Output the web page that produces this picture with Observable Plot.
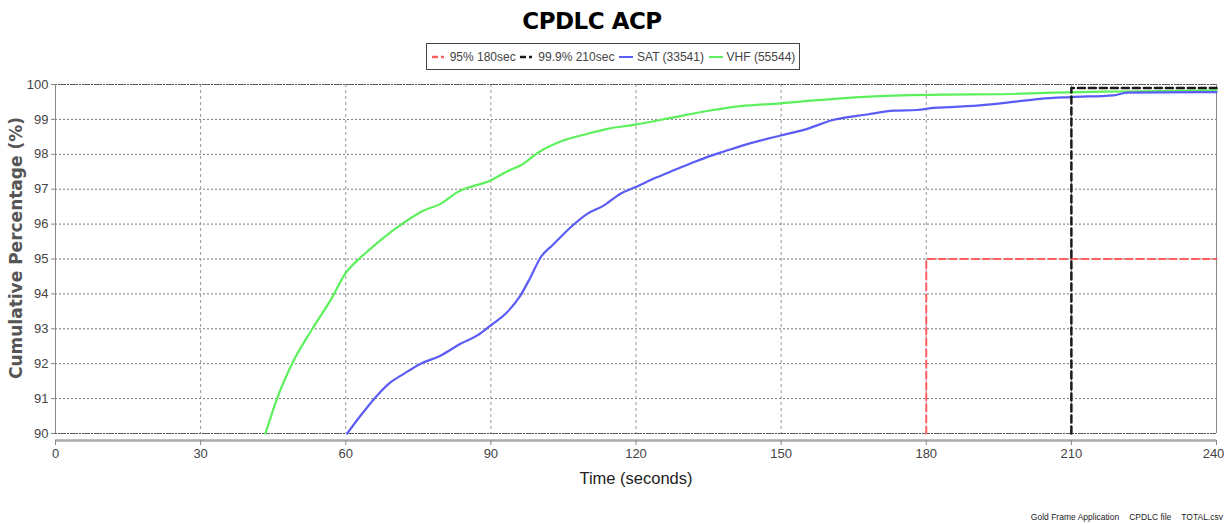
<!DOCTYPE html>
<html><head><meta charset="utf-8">
<script src="https://cdn.jsdelivr.net/npm/d3@7"></script>
<script src="https://cdn.jsdelivr.net/npm/@observablehq/plot@0.6"></script>
<style>
body{margin:0;background:#fff;width:1226px;height:524px;overflow:hidden;font-family:"Liberation Sans",Arial,sans-serif;}
#title{position:absolute;left:0;width:1184px;top:8px;text-align:center;font-weight:bold;font-size:23px;color:#000;font-family:"DejaVu Sans",sans-serif;letter-spacing:-0.5px;}
#legend{position:absolute;left:426px;top:43px;width:372px;height:25px;border:1px solid #444;display:flex;align-items:center;justify-content:space-evenly;font-size:12px;color:#444;white-space:nowrap;}
#legend span{display:inline-flex;align-items:center;gap:3px;white-space:nowrap;}
#chart{position:absolute;left:0;top:74px;}
#chart svg{overflow:visible;}
#caption{position:absolute;right:3px;top:512px;font-size:8.5px;color:#222;white-space:nowrap;}
#caption b{font-weight:normal;margin-left:10px;}
</style></head>
<body>
<div id="title">CPDLC ACP</div>
<div id="legend"></div>
<div id="chart"></div>
<div id="caption">Gold Frame Application<b>CPDLC file</b><b>TOTAL.csv</b></div>
<script>
const seriesNames = ["95% 180sec", "99.9% 210sec", "SAT (33541)", "VHF (55544)"];
const seriesColors = ["#ff5f5f", "#1a1a1a", "#5b5bf5", "#5cf05c"];

const vhfTime = [43.4,45.8,48.9,53.1,57.2,59.9,62.4,65.1,67.9,71.6,76.1,79.6,83.0,89.9,94.1,96.1,99.9,105.1,110,114.1,119.9,127.8,134.7,141.6,149.9,160.9,169.2,184.3,195,206.4,220,240];
const vhfPct  = [90.0,91.0,92.0,93.0,93.9,94.58,94.96,95.29,95.62,96.0,96.39,96.58,96.91,97.25,97.56,97.68,98.06,98.4,98.59,98.73,98.85,99.06,99.24,99.38,99.46,99.59,99.66,99.71,99.72,99.77,99.8,99.83];

const satTime = [60.3,63.0,66.5,69.3,72.0,75.5,79.6,83.7,87.2,89.9,93.4,96.1,98.2,100.3,103.0,106.5,110.0,113.3,116.8,119.9,124.3,127.8,131.9,134.7,138.2,143.7,149.9,154.7,160.9,167.8,173.3,178.1,181.6,185,191,198,203.6,209.8,218.7,221.6,240];
const satPct  = [90.0,90.5,91.09,91.47,91.71,92.0,92.23,92.57,92.81,93.09,93.48,93.95,94.48,95.05,95.43,95.91,96.3,96.53,96.87,97.06,97.34,97.54,97.77,97.92,98.08,98.32,98.54,98.70,98.99,99.14,99.25,99.27,99.33,99.35,99.4,99.5,99.59,99.64,99.69,99.77,99.78];

const ref95Time = [180, 180, 240];
const ref95Pct = [90, 95, 95];
const ref999Time = [210, 210, 240];
const ref999Pct = [90, 99.9, 99.9];

const xTicks = [0,30,60,90,120,150,180,210,240];
const yTicks = [90,91,92,93,94,95,96,97,98,99,100];

const toRows = (t, p) => t.map((x, i) => ({x, y: p[i]}));
const vhf = toRows(vhfTime, vhfPct);
const sat = toRows(satTime, satPct);
const r95 = toRows(ref95Time, ref95Pct);
const r999 = toRows(ref999Time, ref999Pct);

// legend
const leg = document.getElementById("legend");
seriesNames.forEach((n, i) => {
  const dashed = i < 2;
  const icon = dashed
    ? `<svg width="16" height="6"><line x1="1" y1="3" x2="7" y2="3" stroke="${seriesColors[i]}" stroke-width="2.5"/><line x1="10" y1="3" x2="13" y2="3" stroke="${seriesColors[i]}" stroke-width="2.5"/></svg>`
    : `<svg width="16" height="6"><line x1="1" y1="3" x2="15" y2="3" stroke="${seriesColors[i]}" stroke-width="2"/></svg>`;
  const s = document.createElement("span");
  s.innerHTML = icon + n;
  leg.appendChild(s);
});

const lastTick = xTicks[xTicks.length - 1];
const plot = Plot.plot({
  width: 1226,
  height: 430,
  marginTop: 10,
  marginBottom: 71,
  marginLeft: 55,
  marginRight: 10,
  style: {fontFamily: '"Liberation Sans",Arial,sans-serif', fontSize: "13px", color: "#444", background: "#fff", overflow: "visible"},
  x: {domain: [0, 240]},
  y: {domain: [90, 100]},
  marks: [
    Plot.gridY(yTicks, {stroke: "#777", strokeOpacity: 1, strokeDasharray: "2,2", strokeWidth: 1}),
    Plot.gridX(xTicks.slice(1, -1), {stroke: "#999", strokeOpacity: 1, strokeDasharray: "3,3", strokeWidth: 1}),
    Plot.ruleY([90, 100], {stroke: "#555", strokeDasharray: "2,1", strokeWidth: 1.2}),
    Plot.ruleX([0, 240], {stroke: "#888", strokeWidth: 1}),
    Plot.ruleY([90], {dy: 7, stroke: "#aaa", strokeWidth: 2.5}),
    Plot.axisX(xTicks, {dy: 7, tickSize: 5, tickPadding: 3, fontSize: 13, label: null, stroke: "#888", tickFormat: d => d === lastTick ? "" : String(d)}),
    Plot.axisX([lastTick], {dy: 7, dx: -3, tickSize: 5, tickPadding: 3, fontSize: 13, label: null, stroke: "none"}),
    Plot.axisY(yTicks, {tickSize: 4, tickPadding: 3, fontSize: 13, label: null, stroke: "#888"}),
    Plot.line(vhf, {x: "x", y: "y", stroke: seriesColors[3], strokeWidth: 2.2, curve: "monotone-x"}),
    Plot.line(sat, {x: "x", y: "y", stroke: seriesColors[2], strokeWidth: 2.2, curve: "monotone-x"}),
    Plot.line(r95, {x: "x", y: "y", stroke: seriesColors[0], strokeWidth: 2, strokeDasharray: "7,4"}),
    Plot.line(r999, {x: "x", y: "y", stroke: seriesColors[1], strokeWidth: 2.5, strokeDasharray: "7,4"}),
    Plot.text(["Time (seconds)"], {frameAnchor: "bottom", dy: 50, fontSize: 16.5, fill: "#222"}),
    Plot.text(["Cumulative Percentage (%)"], {frameAnchor: "left", textAnchor: "middle", dx: -39, dy: -11, rotate: -90, fontSize: 17, fontWeight: "bold", fill: "#555", fontFamily: '"DejaVu Sans",sans-serif', letterSpacing: "1.8px"})
  ]
});
document.getElementById("chart").appendChild(plot);
</script>
</body></html>
